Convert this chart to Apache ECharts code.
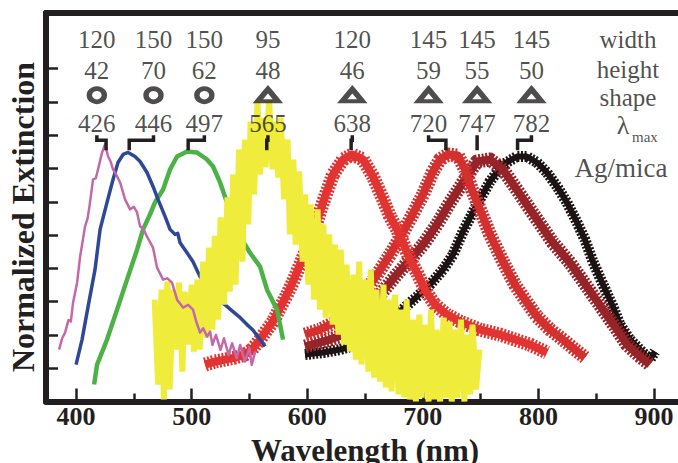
<!DOCTYPE html>
<html><head><meta charset="utf-8">
<script src="https://cdn.jsdelivr.net/npm/echarts@6/dist/echarts.min.js"></script>
<style>html,body{margin:0;padding:0;background:#fff}#c{width:678px;height:463px}</style>
</head><body><div id="c"></div>
<script>
// ---- axis ticks ----
const wavelengthTicks = [400, 500, 600, 700, 800, 900];
const wavelengthMinorTicks = [450, 550, 650, 750, 850];
const extinctionTicks = [0.1, 0.2, 0.3, 0.4, 0.5, 0.6, 0.7, 0.8, 0.9, 1.0];

// ---- annotation values ----
const lambdaMax = [426, 446, 497, 565, 638, 720, 747, 782];
const peakWidth = [120, 150, 150, 95, 120, 145, 145, 145];
const peakHeight = [42, 70, 62, 48, 46, 59, 55, 50];
const peakShape = ['circle', 'circle', 'circle', 'triangle', 'triangle', 'triangle', 'triangle', 'triangle'];
const rowNames = ['width', 'height', 'shape'];
const substrate = 'Ag/mica';

// ---- spectra [wavelength nm, normalized extinction] ----
const spec426 = [[385.3,0.156],[388,0.19],[390.5,0.207],[393.5,0.245],[395.5,0.24],[397.4,0.297],[400.9,0.357],[403.5,0.435],[407.8,0.526],[410,0.55],[412.1,0.598],[414.7,0.667],[417,0.67],[419.0,0.697],[422.5,0.748],[425.1,0.772],[427.7,0.736],[430,0.72],[432.0,0.697],[435,0.68],[438.1,0.658],[442.4,0.607],[446.7,0.577],[450,0.585],[452.8,0.568],[455.4,0.526],[458,0.52],[461.4,0.495],[466.6,0.462],[470.1,0.402],[475.3,0.366],[479,0.37],[483.0,0.357],[487.4,0.306],[492.6,0.282],[497,0.29],[501.2,0.276],[504,0.24],[507.3,0.207],[510,0.22],[513.3,0.195],[516,0.21],[518,0.17],[521,0.2],[525,0.155],[528,0.19],[532,0.14],[535,0.175],[539,0.13],[542,0.17],[546,0.12],[550,0.16],[552,0.11],[555,0.15]];
const spec446 = [[400.0,0.111],[405.2,0.186],[410.4,0.285],[416.4,0.396],[420.8,0.517],[426.8,0.598],[432.0,0.667],[436.3,0.718],[440.7,0.742],[445.0,0.748],[451.0,0.736],[455.4,0.721],[461.4,0.688],[466.6,0.646],[470.9,0.607],[477.0,0.556],[481.3,0.517],[485.6,0.502],[488,0.505],[490.0,0.477],[496.0,0.447],[501.2,0.420],[507.3,0.375],[515.9,0.336],[522.8,0.306],[529,0.29],[535.8,0.270],[541,0.255],[547.9,0.231],[553,0.215],[559.2,0.186],[563.5,0.165]];
const spec497 = [[415.6,0.051],[418.2,0.111],[426.8,0.186],[435.5,0.276],[444.1,0.366],[452.8,0.456],[458.0,0.517],[464.0,0.562],[468.3,0.598],[475.3,0.637],[481.3,0.697],[487.4,0.736],[496.0,0.751],[504.7,0.748],[513.3,0.727],[518.5,0.706],[524.6,0.658],[530.6,0.598],[535.8,0.538],[541.9,0.495],[550.5,0.447],[559.2,0.405],[565.2,0.336],[573.9,0.276],[579.1,0.186]];
const spec565 = [[468,0.306],[471,0.051],[474,0.336],[476,0.006],[479,0.360],[481,0.036],[484,0.336],[487,0.156],[489,0.357],[492,0.090],[494,0.330],[497,0.171],[500,0.351],[502,0.150],[505,0.366],[507,0.156],[510,0.420],[513,0.192],[515,0.462],[518,0.216],[520,0.498],[523,0.246],[525,0.553],[528,0.291],[531,0.613],[533,0.330],[536,0.682],[538,0.351],[541,0.757],[544,0.420],[546,0.787],[549,0.532],[551,0.841],[554,0.622],[557,0.901],[559,0.682],[562,0.853],[564,0.703],[567,0.907],[570,0.697],[572,0.841],[575,0.673],[577,0.853],[580,0.607],[583,0.787],[585,0.502],[588,0.727],[590,0.471],[593,0.691],[596,0.420],[598,0.622],[601,0.351],[603,0.592],[606,0.306],[609,0.577],[611,0.276],[614,0.532],[616,0.252],[619,0.502],[622,0.231],[624,0.471],[627,0.201],[629,0.456],[632,0.171],[634,0.411],[637,0.150],[640,0.381],[642,0.126],[645,0.420],[647,0.111],[650,0.366],[653,0.090],[655,0.396],[658,0.072],[660,0.336],[663,0.060],[666,0.351],[668,0.042],[671,0.306],[673,0.030],[676,0.321],[679,0.021],[681,0.276],[684,0.012],[686,0.306],[689,0.006],[692,0.246],[694,0.0],[697,0.261],[699,0.012],[702,0.231],[705,0.0],[707,0.276],[710,0.006],[712,0.216],[715,0.0],[718,0.252],[720,0.012],[723,0.240],[725,0.0],[728,0.216],[730,0.012],[733,0.246],[736,0.0],[738,0.201],[741,0.021],[743,0.231],[746,0.036],[749,0.156]];
const spec638 = [[511.6,0.111],[520.2,0.120],[528.9,0.126],[537.5,0.132],[546.2,0.141],[552.2,0.156],[559.2,0.186],[565.2,0.216],[570.4,0.240],[576.5,0.282],[582.5,0.321],[587.7,0.360],[593.8,0.411],[599.8,0.462],[606.7,0.523],[613.7,0.598],[622.3,0.682],[631.0,0.727],[638.7,0.742],[648.3,0.727],[656.9,0.676],[665.6,0.607],[671.6,0.556],[677.7,0.517],[682.9,0.477],[688.9,0.426],[695.0,0.387],[701.9,0.336],[710.5,0.291],[720.9,0.261],[732.2,0.240],[749.5,0.216],[766.8,0.201],[779.7,0.186],[792.7,0.171],[807.4,0.147]];
const spec720 = [[598.1,0.201],[611.1,0.216],[628.4,0.246],[641.3,0.282],[650.0,0.327],[660.4,0.381],[671.6,0.441],[680.3,0.492],[688.9,0.547],[700.2,0.622],[708.8,0.691],[714.9,0.727],[721.8,0.742],[730.4,0.739],[736.5,0.697],[742.5,0.637],[749.5,0.577],[758.1,0.502],[769.4,0.420],[779.7,0.351],[788.4,0.306],[798.8,0.255],[810.0,0.216],[821.3,0.186],[831.6,0.156],[840.3,0.132]];
const spec747 = [[598.1,0.165],[619.7,0.186],[637.0,0.207],[650.0,0.252],[663.0,0.321],[675.9,0.375],[688.9,0.426],[700.2,0.471],[712.3,0.532],[723.5,0.598],[736.5,0.667],[746.9,0.721],[758.1,0.727],[769.4,0.697],[784.1,0.622],[798.8,0.547],[812.6,0.477],[827.3,0.417],[842.0,0.345],[855.9,0.276],[866.2,0.225],[876.6,0.171],[887.9,0.135],[896.5,0.111]];
const spec782 = [[598.1,0.141],[613.7,0.147],[628.4,0.156],[643.1,0.171],[656.0,0.201],[665.6,0.240],[680.3,0.270],[695.0,0.315],[706.2,0.351],[717.5,0.396],[726.1,0.441],[734.8,0.511],[746.9,0.592],[758.1,0.661],[769.4,0.712],[781.5,0.736],[790.1,0.736],[798.8,0.718],[807.4,0.688],[816.1,0.646],[824.7,0.598],[833.4,0.538],[840.3,0.486],[847.2,0.420],[855.9,0.351],[864.5,0.285],[870.6,0.231],[879.2,0.186],[887.9,0.156],[896.5,0.126],[900.9,0.150]];

// ---- layout (not data) ----
const labelNm = [418, 467, 511, 566, 639, 705, 747, 794];
const rowY = {width: 1.086, height: 0.995, shape: 0.920, lambda: 0.836};
const wordY = {width: 1.086, height: 0.998, shape: 0.912};
const wordNm = 877.5;
const INK = '#231f20';
const SERIF = "'Liberation Serif', 'Times New Roman', serif";

const chart = echarts.init(document.getElementById('c'), null, {renderer: 'svg'});

function lineSeries(data, color, width, z, join, dash) {
  return {type: 'line', data: data, symbol: 'none', showSymbol: false, z: z,
    lineStyle: {color: color, width: width, join: join || 'round', type: dash || 'solid', cap: 'butt'},
    animation: false, silent: true};
}
// fringed band: solid core + dashed halo giving the saw-tooth texture of the interference fringes
function fringed(data, color, core, halo, z) {
  return [lineSeries(data, color, core, z), lineSeries(data, color, halo, z, 'round', [2, 1.6])];
}
function textRow(texts, y, size) {
  return {type: 'scatter', symbolSize: 1, itemStyle: {color: 'rgba(0,0,0,0)'}, z: 20, silent: true,
    data: texts.map((t, i) => ({name: String(t), value: [labelNm[i], y]})),
    label: {show: true, position: 'inside', formatter: '{b}', color: INK, fontFamily: SERIF, fontSize: size, lineHeight: size - 4}};
}
function wordLabel(text, x, y, size) {
  return {type: 'scatter', symbolSize: 1, itemStyle: {color: 'rgba(0,0,0,0)'}, z: 20, silent: true,
    data: [{name: text, value: [x, y]}],
    label: {show: true, position: 'inside', formatter: '{b}', color: INK, fontFamily: SERIF, fontSize: size, lineHeight: size - 4}};
}
const brackets = lambdaMax.map((lm, i) => ({
  type: 'line', symbol: 'none', z: 15, silent: true, animation: false,
  lineStyle: {color: INK, width: 3.5, join: 'miter', cap: 'butt'},
  data: [[labelNm[i], 0.80], [labelNm[i], 0.785], [lm, 0.785], [lm, 0.755]]
}));

const series = [].concat(
  fringed(spec782, '#1c1414', 6, 11, 2),
  fringed(spec747, '#962428', 8, 14, 3),
  fringed(spec720, '#d33030', 8, 14, 4),
  fringed(spec638, '#e23432', 8, 14, 5),
  [
  lineSeries(spec497, '#4cb248', 4.5, 6),
  lineSeries(spec446, '#2e4896', 3.5, 7),
  lineSeries(spec565, '#f0ec3c', 6, 8, 'miter'),
  lineSeries(spec426, '#c468aa', 2.5, 9),
  textRow(peakWidth, rowY.width, 25),
  textRow(peakHeight, rowY.height, 25),
  textRow(lambdaMax, rowY.lambda, 25),
  {type: 'scatter', z: 20, silent: true,
   itemStyle: {color: '#fff', borderColor: INK, borderWidth: 5},
   data: peakShape.map((s, i) => ({value: [labelNm[i], rowY.shape], symbol: s,
     symbolSize: s === 'circle' ? [15, 13] : [20, 12]}))},
  wordLabel(rowNames[0], wordNm, wordY.width, 25),
  wordLabel(rowNames[1], wordNm, wordY.height, 25),
  wordLabel(rowNames[2], wordNm, wordY.shape, 25),
  wordLabel('λ', 873.2, 0.830, 26),
  wordLabel('max', 892.2, 0.796, 15),
  wordLabel(substrate, 871.5, 0.701, 27)
  ],
  brackets);

const axisCommon = {type: 'value', min: 374, max: 920.8, splitLine: {show: false}};
chart.setOption({
  animation: false,
  backgroundColor: '#fff',
  grid: {left: 46, right: 0, top: 13, bottom: 61.5, containLabel: false},
  xAxis: [
    Object.assign({}, axisCommon, {position: 'bottom',
      axisLine: {show: true, onZero: false, lineStyle: {color: INK, width: 6}},
      axisTick: {show: true, inside: true, length: 13, customValues: wavelengthTicks, lineStyle: {color: INK, width: 2.5}},
      axisLabel: {show: true, customValues: wavelengthTicks, margin: 4, fontFamily: SERIF, fontWeight: 'bold', fontSize: 26, lineHeight: 22, color: INK}}),
    Object.assign({}, axisCommon, {position: 'bottom',
      axisLine: {show: false},
      axisTick: {show: true, inside: true, length: 8, customValues: wavelengthMinorTicks, lineStyle: {color: INK, width: 2.5}},
      axisLabel: {show: false}}),
    Object.assign({}, axisCommon, {position: 'top',
      axisLine: {show: true, onZero: false, lineStyle: {color: INK, width: 6}},
      axisTick: {show: false}, axisLabel: {show: false}})
  ],
  yAxis: {type: 'value', min: 0, max: 1.167, splitLine: {show: false},
    axisLine: {show: true, onZero: false, lineStyle: {color: INK, width: 6}},
    axisTick: {show: true, inside: true, length: 12, customValues: extinctionTicks, lineStyle: {color: INK, width: 2.5}},
    axisLabel: {show: false}},
  graphic: [
    {type: 'text', x: 365, y: 450, z: 100,
     style: {text: 'Wavelength (nm)', fontFamily: SERIF, fontWeight: 'bold', fontSize: 31, fill: INK, align: 'center', verticalAlign: 'middle'}},
    {type: 'text', x: 23, y: 217, rotation: Math.PI / 2, z: 100,
     style: {text: 'Normalized Extinction', fontFamily: SERIF, fontWeight: 'bold', fontSize: 32, fill: INK, align: 'center', verticalAlign: 'middle'}}
  ],
  series: series
});
</script>
</body></html>
